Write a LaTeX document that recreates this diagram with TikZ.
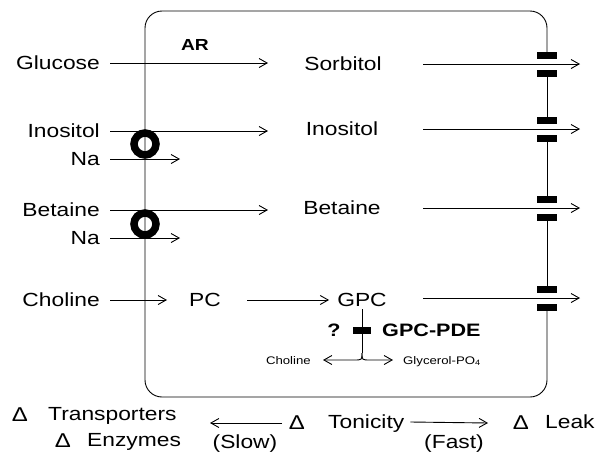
\documentclass[tikz,border=0pt]{standalone}
\usepackage{fontspec}
\setmainfont{Liberation Sans}[FakeStretch=1.2]
\usetikzlibrary{arrows.meta}
\tikzset{
  lbl/.style={inner sep=0pt, text height=13.6pt, text depth=0pt, font=\fontsize{19}{22}\selectfont},
  dlt/.style={inner sep=0pt, text height=12pt, text depth=0pt, font=\fontsize{20}{22}\selectfont},
  small/.style={inner sep=0pt, text height=8pt, text depth=0pt, font=\fontsize{11}{13}\selectfont},
  boldlbl/.style={inner sep=0pt, text height=12.9pt, text depth=0pt, font=\fontsize{18}{21}\selectfont\bfseries},
  arr/.style={line width=0.9pt, -{Straight Barb[length=8pt,width=9pt,line width=0.9pt]}},
  wall/.style={line width=0.9pt},
  gate/.style={fill=black, inner sep=0pt, minimum width=20pt, minimum height=7pt},
  ring/.style={circle, draw, line width=7.5pt, minimum size=22pt, inner sep=0pt},
}
\begin{document}
\begin{tikzpicture}[x=1pt,y=-1pt]
\useasboundingbox (0,0) rectangle (606,453);
% right wall gates
\node[gate] (gAu) at (547,55) {};
\node[gate] (gAl) at (547,73) {};
\node[gate] (gBu) at (547,120) {};
\node[gate] (gBl) at (547,138) {};
\node[gate] (gCu) at (547,199) {};
\node[gate] (gCl) at (547,217) {};
\node[gate] (gDu) at (547,289) {};
\node[gate] (gDl) at (547,307) {};
% cell wall
\draw[wall, rounded corners=17pt] (gAu.center) -- (547,11) -- (145,11) -- (145,397) -- (547,397) -- (gDl.center);
\draw[wall] (gAl.center) -- (gBu.center);
\draw[wall] (gBl.center) -- (gCu.center);
\draw[wall] (gCl.center) -- (gDu.center);

% left labels
\node[lbl, anchor=east] (glu) at (100,63) {Glucose};
\node[lbl, anchor=east] (ino1) at (100,131) {Inositol};
\node[lbl, anchor=east] (na1) at (100,159) {Na};
\node[lbl, anchor=east] (bet1) at (100,210) {Betaine};
\node[lbl, anchor=east] (na2) at (100,238) {Na};
\node[lbl, anchor=east] (cho1) at (100,300) {Choline};
% inner labels
\node[inner sep=0pt, text height=11.5pt, text depth=0pt, font=\fontsize{16}{18}\selectfont\bfseries] (ar) at (195,45) {AR};
\node[lbl] (sor) at (343,64) {Sorbitol};
\node[lbl] (ino2) at (342,129) {Inositol};
\node[lbl] (bet2) at (342,208) {Betaine};
\node[lbl] (pc) at (205,300) {PC};
\node[lbl] (gpc) at (362,300) {GPC};
\node[boldlbl] (q) at (334,330) {?};
\node[boldlbl, anchor=west] (pde) at (382,330) {GPC-PDE};
\node[gate, minimum width=18pt] (pdegate) at (362,330) {};
\node[small, anchor=east] (cho2) at (311,360) {Choline};
\node[small, anchor=west] (gly) at (403,360) {Glycerol-PO\textsubscript{4}};

% coordinates for free arrow ends
\coordinate (glueE) at (268,63);
\coordinate (ino1E) at (268,131);
\coordinate (na1E) at (180,159);
\coordinate (bet1E) at (268,210);
\coordinate (na2E) at (180,238);
\coordinate (cho1E) at (167,300);
\coordinate (split) at (362,353);
\coordinate (sorS) at (423,64);
\coordinate (sorE) at (580,64);
\coordinate (ino2S) at (423,129);
\coordinate (ino2E) at (580,129);
\coordinate (bet2S) at (423,208);
\coordinate (bet2E) at (580,208);
\coordinate (gpcS) at (423,298);
\coordinate (gpcE) at (580,298);

% arrows into the cell
\draw[arr] ([xshift=10pt]glu.east) -- (glueE);
\draw[arr] ([xshift=10pt]ino1.east) -- (ino1E);
\draw[arr] ([xshift=10pt]na1.east) -- (na1E);
\draw[arr] ([xshift=10pt]bet1.east) -- (bet1E);
\draw[arr] ([xshift=10pt]na2.east) -- (na2E);
\draw[arr] ([xshift=10pt]cho1.east) -- (cho1E);
\draw[arr] ([xshift=26pt]pc.east) -- ([xshift=-8pt]gpc.west);

% arrows out through the leak pathways
\draw[arr] (sorS) -- (sorE);
\draw[arr] (ino2S) -- (ino2E);
\draw[arr] (bet2S) -- (bet2E);
\draw[arr] (gpcS) -- (gpcE);

% GPC-PDE branch
\draw[wall] ([yshift=-2pt]gpc.south) -- (split);
\draw[arr] (split) .. controls (362,360) .. (354,360) -- ([xshift=12pt]cho2.east);
\draw[arr] (split) .. controls (362,360) .. (370,360) -- ([xshift=-10pt]gly.west);

% Na cotransporters
\node[ring] (ring1) at (145,144) {};
\node[ring] (ring2) at (145,224) {};

% bottom row
\node[dlt] (d1) at (20,415) {Δ};
\node[lbl, anchor=west] (trans) at (48,414) {Transporters};
\node[dlt] (d2) at (63,441) {Δ};
\node[lbl, anchor=west] (enz) at (87,440) {Enzymes};
\node[dlt] (d3) at (297,423) {Δ};
\node[lbl, anchor=west] (ton) at (328,422) {Tonicity};
\node[lbl] (slow) at (245,442) {(Slow)};
\node[lbl] (fast) at (454,442) {(Fast)};
\node[dlt] (d4) at (521,423) {Δ};
\node[lbl, anchor=west] (leak) at (545,422) {Leak};
\draw[arr] ([xshift=-15pt]d3.center) -- ([xshift=-87pt]d3.center);
\draw[arr] ([xshift=6pt]ton.east) -- ([xshift=-33pt]d4.center);
\end{tikzpicture}
\end{document}
